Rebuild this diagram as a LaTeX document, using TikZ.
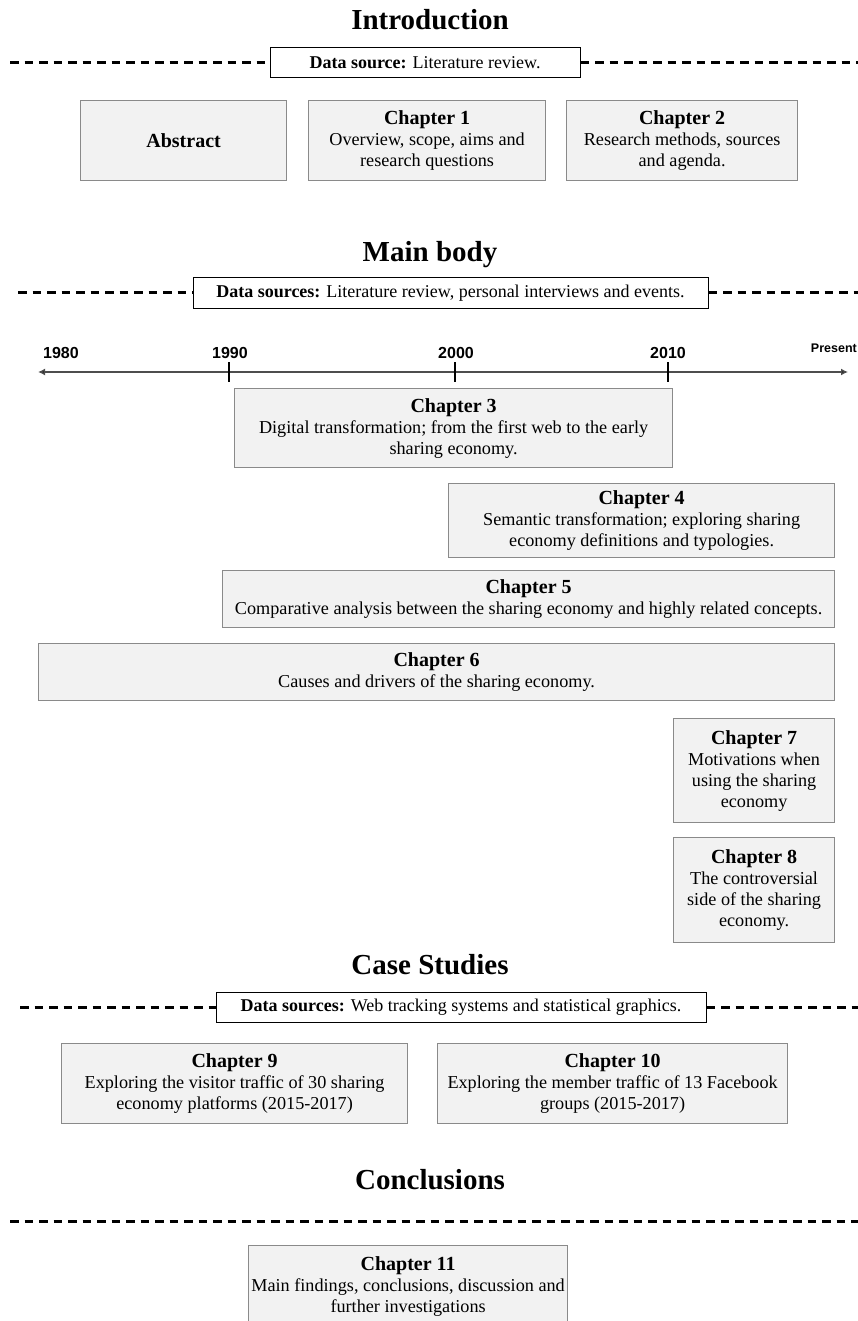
\documentclass[tikz,border=0pt]{standalone}
\usepackage{fontspec}
\setmainfont{Liberation Serif}
\newfontfamily\axisfont{Liberation Sans}
\usetikzlibrary{arrows.meta}
\definecolor{boxfill}{HTML}{F2F2F2}
\definecolor{boxline}{HTML}{8A8A8A}
\definecolor{axisline}{HTML}{4D4D4D}
\newcommand\chaptitle[1]{{\fontsize{20}{21}\selectfont\bfseries #1}}
\begin{document}
\begin{tikzpicture}[x=1pt,y=-1pt,
  chapbox/.style={draw=boxline, fill=boxfill, line width=1.2pt, inner sep=0pt,
    align=center, anchor=north west, font=\fontsize{18.2}{21}\selectfont},
  srcbox/.style={draw=black, fill=white, line width=1pt, inner sep=0pt,
    align=center, font=\fontsize{18}{20}\selectfont, minimum height=30},
  heading/.style={font=\fontsize{29}{32}\selectfont\bfseries},
  divider/.style={line width=3pt, dash pattern=on 8.5pt off 6pt},
  year/.style={font=\axisfont\bfseries\fontsize{16}{18}\selectfont},
  tick/.style={line width=1.5pt},
]
\useasboundingbox (0,0) rectangle (858,1321);

% ---------------- Introduction ----------------
\node[heading] (hintro) at (430,20) {Introduction};
\node[srcbox, minimum width=310] (src1) at (425,63) {\textbf{Data source:} Literature review.};
\coordinate (d1l) at (10,63);
\coordinate (d1r) at (858,63);
\draw[divider] (d1l) -- (src1.west);
\draw[divider] (src1.east) -- (d1r);

\node[chapbox, minimum width=206, minimum height=80] (abs) at (80,100) {\chaptitle{Abstract}};
\node[chapbox, minimum width=237, minimum height=80] (c1) at (308,100)
  {\chaptitle{Chapter 1}\\Overview, scope, aims and\\research questions};
\node[chapbox, minimum width=231, minimum height=80] (c2) at (566,100)
  {\chaptitle{Chapter 2}\\Research methods, sources\\and agenda.};

% ---------------- Main body ----------------
\node[heading] (hmain) at (430,255) {Main body};
\node[srcbox, minimum width=515] (src2) at (450.5,293) {\textbf{Data sources:} Literature review, personal interviews and events.};
\coordinate (d2l) at (18,293);
\coordinate (d2r) at (858,293);
\draw[divider] (d2l) -- (src2.west);
\draw[divider] (src2.east) -- (d2r);

% timeline
\coordinate (tl) at (38,372);
\coordinate (tr) at (848,372);
\draw[tick, draw=axisline, {Latex[length=7pt,width=7pt,fill=black]}-{Latex[length=7pt,width=7pt,fill=black]}] (tl) -- (tr);
\foreach \x in {229, 455, 668}{
  \draw[tick] (\x,362) -- (\x,382);
}
\node[year] (y1980) at (61,353) {1980};
\node[year] (y1990) at (230,353) {1990};
\node[year] (y2000) at (456,353) {2000};
\node[year] (y2010) at (668,353) {2010};
\node[year, font=\axisfont\bfseries\fontsize{12.5}{14}\selectfont, anchor=east, inner sep=0pt] (ypres) at (857,348) {Present};

\node[chapbox, minimum width=438, minimum height=79] (c3) at (234,388)
  {\chaptitle{Chapter 3}\\Digital transformation; from the first web to the early\\sharing economy.};
\node[chapbox, minimum width=386, minimum height=74] (c4) at (448,483)
  {\chaptitle{Chapter 4}\\Semantic transformation; exploring sharing\\economy definitions and typologies.};
\node[chapbox, minimum width=612, minimum height=57] (c5) at (222,570)
  {\chaptitle{Chapter 5}\\Comparative analysis between the sharing economy and highly related concepts.};
\node[chapbox, minimum width=796, minimum height=57] (c6) at (38,643)
  {\chaptitle{Chapter 6}\\Causes and drivers of the sharing economy.};
\node[chapbox, minimum width=161, minimum height=104] (c7) at (673,718)
  {\chaptitle{Chapter 7}\\Motivations when\\using the sharing\\economy};
\node[chapbox, minimum width=161, minimum height=105] (c8) at (673,837)
  {\chaptitle{Chapter 8}\\The controversial\\side of the sharing\\economy.};

% ---------------- Case Studies ----------------
\node[heading] (hcase) at (430,965) {Case Studies};
\node[srcbox, minimum width=490] (src3) at (461,1007) {\textbf{Data sources:} Web tracking systems and statistical graphics.};
\coordinate (d3l) at (20,1007);
\coordinate (d3r) at (858,1007);
\draw[divider] (d3l) -- (src3.west);
\draw[divider] (src3.east) -- (d3r);

\node[chapbox, minimum width=346, minimum height=80] (c9) at (61,1043)
  {\chaptitle{Chapter 9}\\Exploring the visitor traffic of 30 sharing\\economy platforms (2015-2017)};
\node[chapbox, minimum width=350, minimum height=80] (c10) at (437,1043)
  {\chaptitle{Chapter 10}\\Exploring the member traffic of 13 Facebook\\groups (2015-2017)};

% ---------------- Conclusions ----------------
\node[heading] (hconc) at (430,1180) {Conclusions};
\coordinate (d4l) at (10,1221);
\coordinate (d4r) at (858,1221);
\draw[divider] (d4l) -- (d4r);

\node[chapbox, minimum width=319, minimum height=82] (c11) at (248,1245)
  {\chaptitle{Chapter 11}\\Main findings, conclusions, discussion and\\further investigations};
\end{tikzpicture}
\end{document}
